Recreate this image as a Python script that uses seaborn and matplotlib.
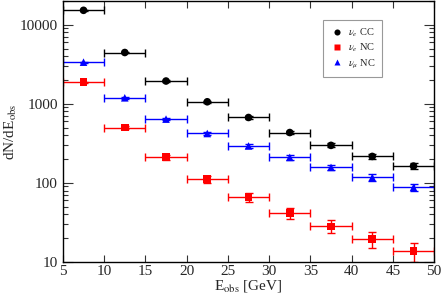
import numpy as np
import pandas as pd
import seaborn as sns
import matplotlib.pyplot as plt
from matplotlib.ticker import LogLocator, FixedLocator, NullFormatter

# bin centres (GeV), bin half width 2.5
e_obs = [7.5, 12.5, 17.5, 22.5, 27.5, 32.5, 37.5, 42.5, 47.5]
half_width = 2.5

nue_cc = [15200, 4450, 1940, 1060, 671, 433, 298, 216, 163]
nue_cc_err = [123, 67, 44, 33, 26, 21, 17, 15, 13]
nue_nc = [1870, 501, 212, 111, 66, 41.7, 28.2, 19.5, 13.7]
nue_nc_err = [43, 22, 15, 11, 8.1, 6.5, 5.3, 4.4, 3.7]
numu_nc = [3360, 1190, 640, 421, 293, 210, 157, 117, 87.5]
numu_nc_err = [58, 34, 25, 21, 17, 14, 13, 11, 9.4]

labels = [r"$\nu_e$ CC", r"$\nu_e$ NC", r"$\nu_\mu$ NC"]
colors = ["black", "red", "blue"]
markers = ["o", "s", "^"]

sns.set_style("ticks")
plt.rcParams["font.family"] = ["Liberation Serif", "DejaVu Serif"]
plt.rcParams["mathtext.fontset"] = "stix"

df = pd.DataFrame({
    "E": e_obs * 3,
    "N": nue_cc + nue_nc + numu_nc,
    "err": nue_cc_err + nue_nc_err + numu_nc_err,
    "chan": [labels[0]] * 9 + [labels[1]] * 9 + [labels[2]] * 9,
})

fig = plt.figure(figsize=(4.43, 2.97), dpi=100)
ax = fig.add_axes([0.142, 0.118, 0.838, 0.879])

for lab, col in zip(labels, colors):
    d = df[df["chan"] == lab]
    ax.errorbar(d["E"], d["N"], xerr=half_width, yerr=d["err"], fmt="none",
                ecolor=col, elinewidth=1, capsize=3, capthick=1, zorder=2)

sns.scatterplot(data=df, x="E", y="N", hue="chan", style="chan",
                palette=dict(zip(labels, colors)),
                markers=dict(zip(labels, markers)),
                s=30, edgecolor="none", ax=ax, zorder=3)

ax.set_yscale("log")
ax.set_xlim(5, 50)
ax.set_ylim(10, 20000)
ax.set_xticks(np.arange(5, 51, 5))
ax.yaxis.set_major_locator(FixedLocator([10, 100, 1000, 10000]))
ax.set_yticklabels(["10", "100", "1000", "10000"])
ax.yaxis.set_minor_locator(LogLocator(base=10, subs=np.arange(2, 10)))
ax.yaxis.set_minor_formatter(NullFormatter())

ax.tick_params(which="both", direction="in", top=True, right=True, labelsize=11,
               color="#333333", width=0.8)
ax.tick_params(which="major", axis="y", length=7)
ax.tick_params(which="minor", axis="y", length=3.5)
ax.tick_params(which="major", axis="x", length=5, pad=2)
for s in ax.spines.values():
    s.set_linewidth(1)
    s.set_color("black")

ax.set_xlabel(r"E$_{\rm obs}$ [GeV]", fontsize=11, labelpad=0)
ax.set_ylabel(r"dN/dE$_{\rm obs}$", fontsize=11)
ax.yaxis.set_label_coords(-0.118, 0.5)

handles, lbls = ax.get_legend_handles_labels()
leg = ax.legend(handles, lbls, loc="upper left", bbox_to_anchor=(0.70, 0.927),
                borderaxespad=0, fontsize=7.5, frameon=True, fancybox=False,
                edgecolor="gray", handletextpad=0.2, labelspacing=0.3,
                borderpad=0.6, handlelength=1.6, markerscale=0.8)
leg.get_frame().set_linewidth(0.8)

fig.savefig("out.png", dpi=100)
